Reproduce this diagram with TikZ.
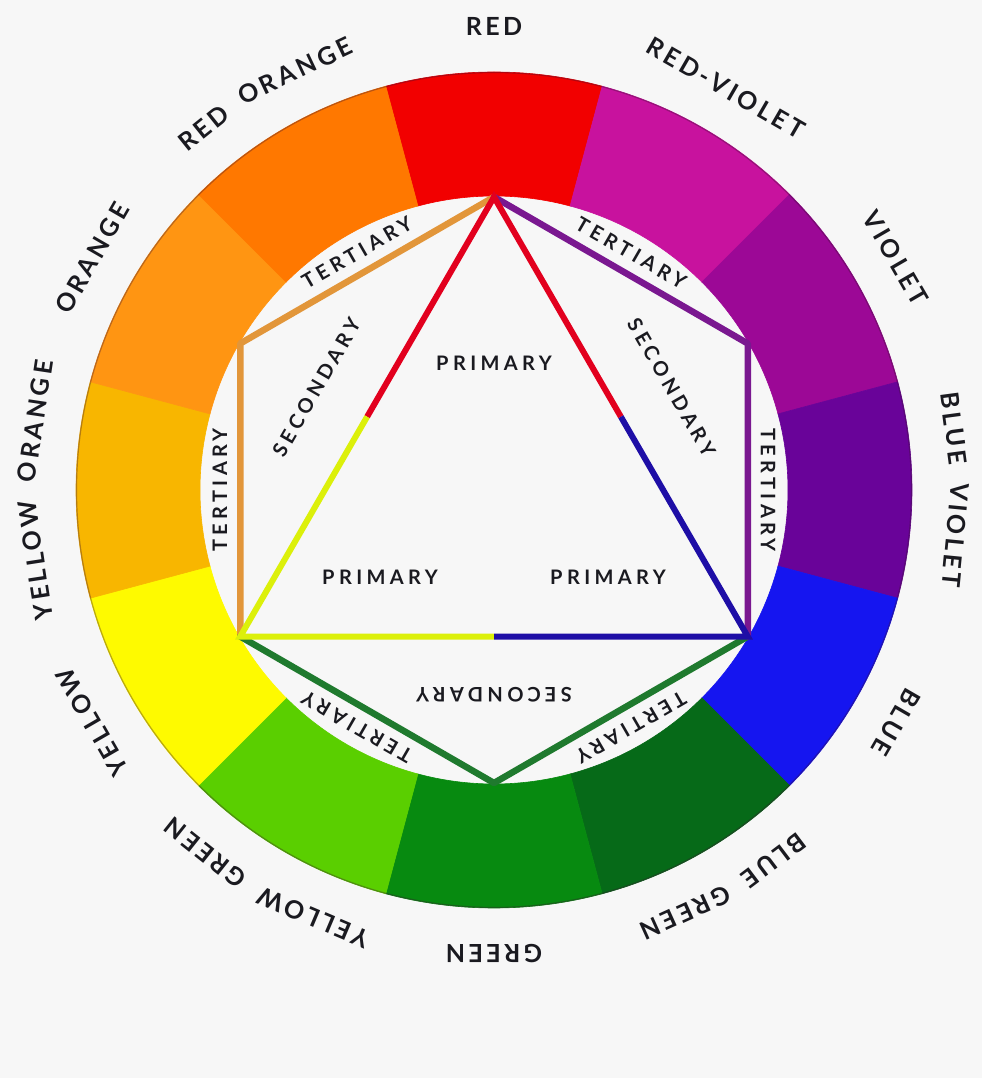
\documentclass[tikz,border=0pt]{standalone}
\usepackage{fontspec}
\setmainfont{Lato}
\newfontfamily\lblfamily{Lato}[LetterSpace=22]
\newfontfamily\outfamily{Lato}[LetterSpace=14]
\usetikzlibrary{calc}
\definecolor{bg}{HTML}{F7F7F7}
\definecolor{labelc}{HTML}{1A1A20}
\definecolor{cR}{HTML}{F20000}
\definecolor{cRV}{HTML}{C8129E}
\definecolor{cV}{HTML}{9C0896}
\definecolor{cBV}{HTML}{690399}
\definecolor{cB}{HTML}{1515F0}
\definecolor{cBG}{HTML}{066A18}
\definecolor{cG}{HTML}{078A10}
\definecolor{cYG}{HTML}{5ACF00}
\definecolor{cY}{HTML}{FEFA00}
\definecolor{cYO}{HTML}{F8B600}
\definecolor{cO}{HTML}{FF9512}
\definecolor{cRO}{HTML}{FF7800}
\definecolor{triR}{HTML}{E2001E}
\definecolor{triY}{HTML}{DCF00A}
\definecolor{triB}{HTML}{1E0EA6}
\definecolor{hexO}{HTML}{E2963A}
\definecolor{hexG}{HTML}{1F7A2E}
\definecolor{hexP}{HTML}{7A1890}
\definecolor{rimc}{HTML}{3A1030}
\newcommand\outerfnt{\outfamily\bfseries\fontsize{25}{30}\selectfont}
\newcommand\innerfnt{\lblfamily\bfseries\fontsize{20}{24}\selectfont}
\newlength\wdA \newlength\wdB \newlength\wdT
\def\Rlbl{464}
% measure a two-word label (done outside the picture): name, word1, word2
\newcommand\prep[3]{%
  \settowidth\wdA{\outerfnt #2}\settowidth\wdB{\outerfnt #3}\settowidth\wdT{\outerfnt #2\hspace{9pt} #3}%
  \pgfmathsetmacro\tmpA{deg((\wdT/2-\wdA/2)/\Rlbl)}\expandafter\xdef\csname #1offA\endcsname{\tmpA}%
  \pgfmathsetmacro\tmpB{deg((\wdT/2-\wdB/2)/\Rlbl)}\expandafter\xdef\csname #1offB\endcsname{\tmpB}}
% one-word outer label: name, angle, word
\newcommand\olabelA[3]{\node[olbl,rotate=#2-90] (#1) at (#2:\Rlbl) {#3};}
% two-word outer label: name, angle, word1, word2
\newcommand\olabelB[4]{%
  \expandafter\let\expandafter\offA\csname #1offA\endcsname
  \expandafter\let\expandafter\offB\csname #1offB\endcsname
  \pgfmathsetmacro\angA{#2+\offA}%
  \pgfmathsetmacro\angB{#2-\offB}%
  \node[olbl,rotate=\angA-90] (#1a) at (\angA:\Rlbl) {#3};
  \node[olbl,rotate=\angB-90] (#1b) at (\angB:\Rlbl) {#4};}
\tikzset{
  seg/.style={fill=#1,draw=#1,line width=0.6pt},
  hexline/.style={line width=6.5pt,line join=round,line cap=round,draw=#1},
  triline/.style={line width=6pt,line join=miter,line cap=butt,draw=#1},
  inlbl/.style={text=labelc,font=\innerfnt,inner sep=0pt},
  olbl/.style={text=labelc,font=\outerfnt,inner sep=0pt}
}
\begin{document}
\prep{lBV}{BLUE}{VIOLET}%
\prep{lBG}{BLUE}{GREEN}%
\prep{lYG}{YELLOW}{GREEN}%
\prep{lYO}{YELLOW}{ORANGE}%
\prep{lRO}{RED}{ORANGE}%
\begin{tikzpicture}[x=1pt,y=1pt]
\fill[bg] (-494,-588) rectangle (488,490);
\useasboundingbox (-494,-588) rectangle (488,490);
% ring
\foreach \a/\c in {90/cR,60/cRV,30/cV,0/cBV,-30/cB,-60/cBG,-90/cG,-120/cYG,-150/cY,180/cYO,150/cO,120/cRO}{
  \path[seg=\c] (\a-15:418) arc[start angle=\a-15,end angle=\a+15,radius=418]
     -- (\a+15:294) arc[start angle=\a+15,end angle=\a-15,radius=294] -- cycle;
}
\draw[rimc,opacity=0.35,line width=1.2pt] (0,0) circle[radius=417.5];
% vertices
\foreach \a in {90,150,210,270,330,30}{\coordinate (v\a) at (\a:293);}
\coordinate (mL) at ($(v90)!0.5!(v210)$);
\coordinate (mR) at ($(v90)!0.5!(v330)$);
\coordinate (mB) at ($(v210)!0.5!(v330)$);
% hexagon
\draw[hexline=hexO] (v90) -- (v150) -- (v210);
\draw[hexline=hexG] (v210) -- (v270) -- (v330);
\draw[hexline=hexP] (v330) -- (v30) -- (v90);
% triangle
\draw[triline=triR] (mR) -- (v90) -- (mL);
\draw[triline=triY] (mL) -- (v210) -- (mB);
\draw[triline=triB] (mB) -- (v330) -- (mR);
% inner labels
\node[inlbl] (p1) at (0,127) {PRIMARY};
\node[inlbl] (p2) at (-114,-87) {PRIMARY};
\node[inlbl] (p3) at (114,-87) {PRIMARY};
\node[inlbl,rotate=60] (s1) at (150:205) {SECONDARY};
\node[inlbl,rotate=-60] (s2) at (30:205) {SECONDARY};
\node[inlbl,rotate=180] (s3) at (270:205) {SECONDARY};
\foreach \a in {120,180,240,300,0,60}{
  \node[inlbl,rotate=\a-90] (t\a) at (\a:274) {TERTIARY};
}
% outer labels
\olabelA{lR}{90}{RED}
\olabelA{lRV}{60}{RED-VIOLET}
\olabelA{lV}{30}{VIOLET}
\olabelB{lBV}{0}{BLUE}{VIOLET}
\olabelA{lB}{-30}{BLUE}
\olabelB{lBG}{-60}{BLUE}{GREEN}
\olabelA{lG}{-90}{GREEN}
\olabelB{lYG}{-120}{YELLOW}{GREEN}
\olabelA{lY}{-150}{YELLOW}
\olabelB{lYO}{180}{YELLOW}{ORANGE}
\olabelA{lO}{150}{ORANGE}
\olabelB{lRO}{120}{RED}{ORANGE}
\end{tikzpicture}
\end{document}
